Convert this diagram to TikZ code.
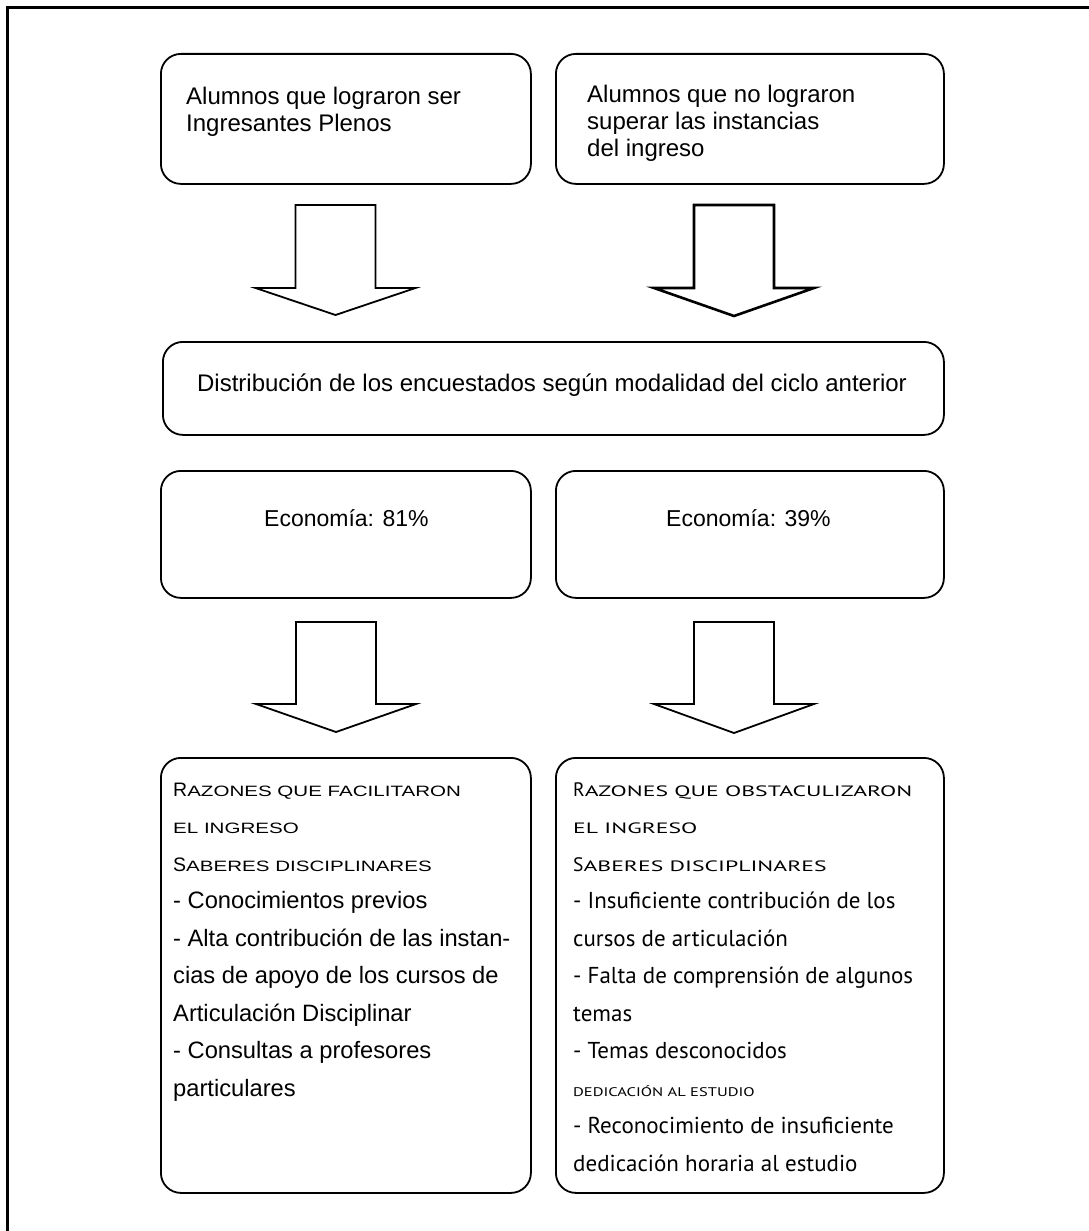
\documentclass[tikz,border=0pt]{standalone}
\usepackage{fontspec}
\usepackage{graphicx}
\setmainfont{Liberation Sans}
\newfontfamily\ptsans{PT Sans}
% fake small caps: #1 stretch, #2 initial capital, #3 rest in small capitals
\newcommand{\fakesc}[3]{{\fontsize{19.5}{20}\selectfont #2}\scalebox{#1}[1]{\fontsize{15}{15}\selectfont #3}}
\newcommand{\tinysc}[1]{\scalebox{1.32}[1]{\ptsans\fontsize{12.5}{13}\selectfont #1}}
\begin{document}
\begin{tikzpicture}[x=1pt,y=-1pt,
  box/.style={draw, line width=1.8pt, rounded corners=20pt, anchor=north west, inner sep=0pt},
  blockarrow/.style={draw, line width=1.8pt, line join=miter, fill=white},
  txt/.style={inner sep=0pt, align=left, anchor=north west}]
\useasboundingbox (0,0) rectangle (1089,1231);
\draw[line width=3pt] (1089,7.5) -- (7.5,7.5) -- (7.5,1231);

% boxes
\node[box, minimum width=370pt, minimum height=130pt] (b1) at (160,53) {};
\node[box, minimum width=388pt, minimum height=130pt] (b2) at (555,53) {};
\node[box, minimum width=781pt, minimum height=93pt] (mid) at (162,341) {};
\node[box, minimum width=370pt, minimum height=127pt] (e1) at (160,470) {};
\node[box, minimum width=388pt, minimum height=127pt] (e2) at (555,470) {};
\node[box, minimum width=370pt, minimum height=435pt] (r1) at (160,757) {};
\node[box, minimum width=388pt, minimum height=435pt] (r2) at (555,757) {};

% texts
\node[txt, font=\fontsize{24}{27}\selectfont] (t1) at (186,86)
  {\rule{0pt}{18pt}Alumnos que lograron ser\\Ingresantes Plenos};
\node[txt, font=\fontsize{24}{27}\selectfont] (t2) at (587,84)
  {\rule{0pt}{18pt}Alumnos que no lograron\\superar las instancias\\del ingreso};
\node[inner sep=0pt, anchor=base, font=\fontsize{24}{26}\selectfont] (tm) at (552,391)
  {Distribución de los encuestados según modalidad del ciclo anterior};
\node[inner sep=0pt, anchor=base west, font=\fontsize{23}{26}\selectfont] (te1) at (264,526) {Economía: 81\%};
\node[inner sep=0pt, anchor=base west, font=\fontsize{23}{26}\selectfont] (te2) at (666,526) {Economía: 39\%};

\node[txt, font=\fontsize{23.7}{37.5}\selectfont] (tr1) at (173,776)
  {\rule{0pt}{20pt}\fakesc{1.37}{R}{AZONES QUE FACILITARON}\\
   \fakesc{1.37}{}{EL INGRESO}\\
   \fakesc{1.37}{S}{ABERES DISCIPLINARES}\\
   - Conocimientos previos\\
   - Alta contribución de las instan-\\
   cias de apoyo de los cursos de\\
   Articulación Disciplinar\\
   - Consultas a profesores\\
   particulares};
\node[txt, font=\ptsans\fontsize{23}{37.5}\selectfont] (tr2) at (573,776)
  {\rule{0pt}{20pt}\fakesc{1.58}{R}{AZONES QUE OBSTACULIZARON}\\
   \fakesc{1.58}{}{EL INGRESO}\\
   \fakesc{1.58}{S}{ABERES DISCIPLINARES}\\
   - Insuficiente contribución de los\\
   cursos de articulación\\
   - Falta de comprensión de algunos\\
   temas\\
   - Temas desconocidos\\
   \tinysc{DEDICACIÓN AL ESTUDIO}\\
   - Reconocimiento de insuficiente\\
   dedicación horaria al estudio};

% block arrows
\newcommand{\blockarr}[5][]{%
  \draw[blockarrow,#1] (#2-40,#3) -- (#2+40,#3) -- (#2+40,#4) -- (#2+80,#4) -- (#2,#5) -- (#2-80,#4) -- (#2-40,#4) -- cycle;}
\blockarr{335.5}{205}{288}{315}
\blockarr[line width=2.6pt]{734}{205}{288}{316}
\blockarr{336}{622}{704}{732}
\blockarr{734}{622}{704}{733}
\end{tikzpicture}
\end{document}
